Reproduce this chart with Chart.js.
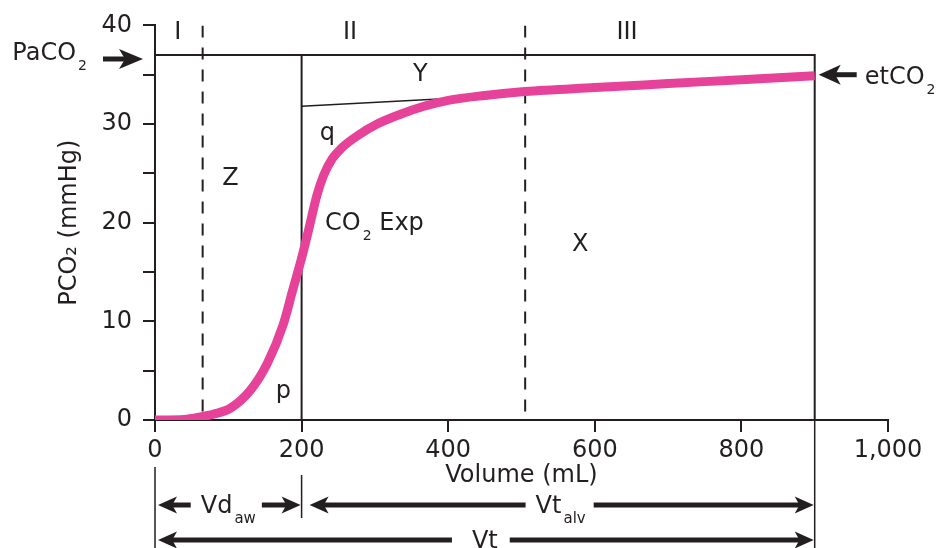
<!DOCTYPE html>
<html>
<head>
<meta charset="utf-8">
<script src="https://cdn.jsdelivr.net/npm/chart.js@4/dist/chart.umd.min.js"></script>
<style>
html,body{margin:0;padding:0;background:#fff;}
canvas{display:block;}
</style>
</head>
<body>
<canvas id="capno" width="936" height="548"></canvas>
<script>
// volumetric capnogram
const volume = [0, 40, 62, 80, 103, 130, 153, 175, 188, 200, 210, 221, 230, 242, 255, 276, 303, 335, 367, 400, 450, 505, 600, 700, 800, 900];
const pco2   = [0, 0.05, 0.3, 0.6, 1.2, 3.0, 5.7, 9.7, 13.2, 16.4, 19.4, 22.8, 24.8, 26.5, 27.6, 28.8, 30.0, 31.0, 31.8, 32.4, 32.9, 33.3, 33.7, 34.1, 34.5, 34.9];
const paco2 = 37;
const phaseBounds = [65, 505];
const airwayEnd = 200;
const tidalEnd = 900;
const tangentVol = [200, 400];
const tangentPco2 = [31.8, 32.6];
const yTickLabels = [0, 10, 20, 30, 40];
const phaseNames = ['I', 'II', 'III'];
const phaseVol = [31, 266, 644];
const phasePco2 = 38.6;
const zoneNames = ['Y', 'q', 'Z', 'X', 'p'];
const zoneVol = [362, 235, 103, 580, 175];
const zonePco2 = [34.4, 28.4, 23.8, 17.1, 2.2];
const expLabel = { vol: 232, pco2: 19.3 };

const INK = '#231f20', PINK = '#e6429a', FONT = '"DejaVu Sans", sans-serif';
Chart.defaults.font.family = FONT;
Chart.defaults.font.size = 24;
Chart.defaults.color = INK;

const pts = (xs, ys)=> xs.map((x,i)=>({x, y: ys[i]}));
const helper = (data, extra)=> Object.assign({ data, borderColor: INK, borderWidth: 2, pointRadius: 0, fill: false, tension: 0 }, extra||{});

// text with subscript parts: [[str, isSub], ...]
function rich(ctx, parts, x, y, align, size, subSize){
  const widths = parts.map(([s,sub])=>{ ctx.font = (sub?subSize:size)+'px '+FONT; return ctx.measureText(s).width + (sub?2:0); });
  const total = widths.reduce((a,b)=>a+b,0);
  let cx = align==='center' ? x-total/2 : align==='right' ? x-total : x;
  ctx.textAlign = 'left'; ctx.textBaseline = 'alphabetic'; ctx.fillStyle = INK;
  parts.forEach(([s,sub],i)=>{
    ctx.font = (sub?subSize:size)+'px '+FONT;
    ctx.fillText(s, cx + (sub?2:0), y + (sub? size*0.42 : 0));
    cx += widths[i];
  });
  return total;
}

function arrow(ctx, xFrom, xTo, y, head, half, shaft){
  const dir = Math.sign(xTo - xFrom);
  ctx.strokeStyle = INK; ctx.fillStyle = INK; ctx.lineWidth = shaft;
  ctx.beginPath(); ctx.moveTo(xFrom, y); ctx.lineTo(xTo - dir*head*0.7, y); ctx.stroke();
  ctx.beginPath();
  ctx.moveTo(xTo, y);
  ctx.lineTo(xTo - dir*head, y - half);
  ctx.lineTo(xTo - dir*head*0.75, y);
  ctx.lineTo(xTo - dir*head, y + half);
  ctx.closePath(); ctx.fill();
}

const annotations = {
  id: 'annotations',
  afterDraw(chart){
    const {ctx, chartArea: a, scales:{x, y}} = chart;
    ctx.save();
    ctx.fillStyle = INK; ctx.textAlign = 'center'; ctx.textBaseline = 'alphabetic';
    ctx.font = '24px '+FONT;
    phaseNames.forEach((t,i)=> ctx.fillText(t, x.getPixelForValue(phaseVol[i]), y.getPixelForValue(phasePco2)));
    zoneNames.forEach((t,i)=> ctx.fillText(t, x.getPixelForValue(zoneVol[i]), y.getPixelForValue(zonePco2[i])));
    rich(ctx, [['CO',0],['2',1],[' Exp',0]], x.getPixelForValue(expLabel.vol), y.getPixelForValue(expLabel.pco2), 'left', 24, 14);

    // PaCO2 arrow on the left
    const yPa = y.getPixelForValue(paco2) + 4;
    arrow(ctx, a.left-52, a.left-12, yPa, 24, 10, 5);
    rich(ctx, [['PaCO',0],['2',1]], a.left-68, yPa+1, 'right', 24, 14);

    // etCO2 arrow on the right
    const xEnd = x.getPixelForValue(tidalEnd);
    const yEt = y.getPixelForValue(pco2[pco2.length-1]) - 1;
    arrow(ctx, xEnd+42, xEnd+4, yEt, 22, 10, 5);
    rich(ctx, [['etCO',0],['2',1]], xEnd+50, yEt+9, 'left', 24, 14);

    // volume brackets under the axis
    const x0 = x.getPixelForValue(0), x2 = x.getPixelForValue(airwayEnd);
    const r1 = a.bottom + 85, r2 = a.bottom + 120;
    ctx.strokeStyle = INK; ctx.lineWidth = 1.5;
    ctx.beginPath();
    ctx.moveTo(x0, a.bottom+47); ctx.lineTo(x0, chart.height);
    ctx.moveTo(x2, a.bottom+55); ctx.lineTo(x2, a.bottom+98);
    ctx.moveTo(xEnd, a.bottom); ctx.lineTo(xEnd, chart.height);
    ctx.stroke();

    const bracket = (parts, xl, xr, yy, gapL, gapR)=>{
      const c = (xl+xr)/2;
      const w = rich(ctx, parts, c, yy+8, 'center', 24, 15);
      arrow(ctx, c - w/2 - gapL, xl+3, yy, 19, 8.5, 5);
      arrow(ctx, c + w/2 + gapR, xr-1, yy, 19, 8.5, 5);
    };
    bracket([['Vd',0],['aw',1]], x0, x2, r1, 10, 6);
    bracket([['Vt',0],['alv',1]], x2+5, xEnd, r1, 10, 8);
    bracket([['Vt',0]], x0, xEnd, r2, 20, 12);
    ctx.restore();
  }
};

new Chart(document.getElementById('capno'), {
  type: 'line',
  data: { datasets: [
    { data: pts(volume, pco2), borderColor: PINK, borderWidth: 9, pointRadius: 0, fill: false, cubicInterpolationMode: 'monotone' },
    helper(pts(tangentVol, tangentPco2), { borderWidth: 1.5 }),
    helper(pts([0, tidalEnd, tidalEnd], [paco2, paco2, 0])),
    helper(pts([airwayEnd, airwayEnd], [paco2, 0])),
    helper(pts([phaseBounds[0], phaseBounds[0]], [40, 0]), { borderDash: [12, 10] }),
    helper(pts([phaseBounds[1], phaseBounds[1]], [40, 0]), { borderDash: [12, 10] })
  ] },
  options: {
    responsive: false, animation: false, devicePixelRatio: 1,
    layout: { padding: { left: 0, right: 48, top: 22, bottom: 0 } },
    plugins: { legend: { display: false }, tooltip: { enabled: false } },
    scales: {
      x: { type: 'linear', min: 0, max: 1000,
        afterFit: s=>{ s.height = 128; },
        border: { color: INK, width: 2 },
        grid: { drawOnChartArea: false, tickLength: 12, color: INK, lineWidth: 2 },
        ticks: { stepSize: 200, padding: 4, maxRotation: 0, callback: v=> v.toLocaleString('en-US') },
        title: { display: true, text: 'Volume (mL)', padding: { bottom: 58 } } },
      y: { min: 0, max: 40,
        afterFit: s=>{ s.width = 155; },
        border: { color: INK, width: 2 },
        grid: { drawOnChartArea: false, tickLength: 12, color: INK, lineWidth: 2 },
        ticks: { stepSize: 5, padding: 11, callback: v=> yTickLabels.includes(v) ? v : '' },
        title: { display: true, text: 'PCO₂ (mmHg)', padding: { top: 55 } } }
    }
  },
  plugins: [annotations]
});
</script>
</body>
</html>
